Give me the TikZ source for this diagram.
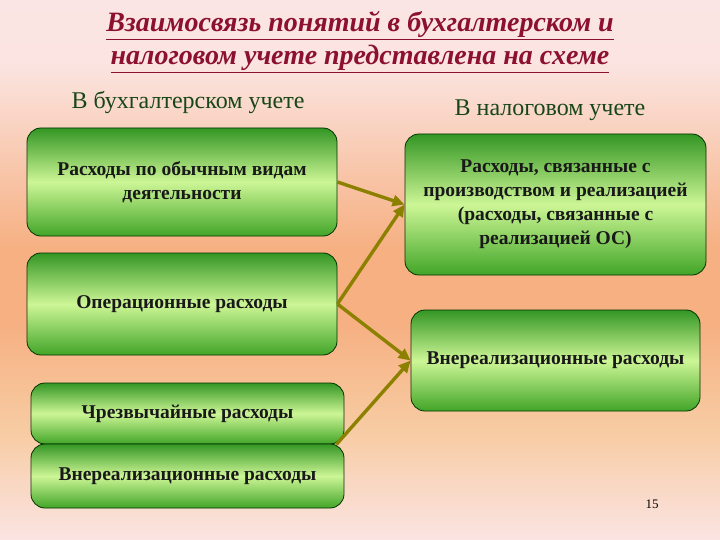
\documentclass[tikz,border=0pt]{standalone}
\usepackage{fontspec}
\setmainfont{Liberation Serif}
\usetikzlibrary{arrows.meta,shadings}
\definecolor{gdark}{RGB}{52,150,36}
\definecolor{glight}{RGB}{205,246,150}
\definecolor{gbot}{RGB}{66,165,40}
\definecolor{titlered}{RGB}{140,16,48}
\definecolor{subgreen}{RGB}{24,70,24}
\definecolor{olive}{RGB}{140,128,0}
\pgfdeclareverticalshading{bgshade}{100bp}{
  rgb(0bp)=(0.984,0.894,0.890);
  rgb(25bp)=(0.984,0.894,0.890);
  rgb(35bp)=(0.970,0.800,0.640);
  rgb(45bp)=(0.965,0.690,0.510);
  rgb(52bp)=(0.965,0.690,0.510);
  rgb(69bp)=(0.984,0.894,0.880);
  rgb(75bp)=(0.984,0.900,0.895);
  rgb(100bp)=(0.984,0.900,0.895)}
\tikzset{
  gbox/.style={draw=black!80!green, line width=0.8pt, rounded corners=14pt,
    top color=gdark, bottom color=gbot, middle color=glight,
    align=center, font=\fontsize{19.5}{24}\selectfont\bfseries, text=black!90},
  link/.style={draw=olive, line width=3.4pt, -{Triangle[length=12pt,width=11pt]}},
  subhead/.style={font=\fontsize{24}{27}\selectfont, text=subgreen}
}
\begin{document}
\begin{tikzpicture}[x=1pt,y=-1pt]
\shade[shading=bgshade] (0,0) rectangle (720,540);
\useasboundingbox (0,0) rectangle (720,540);
\node[font=\fontsize{28}{33}\selectfont\bfseries\itshape, text=titlered, align=center] (title) at (360,42)
  {\underline{Взаимосвязь понятий в бухгалтерском и}\\\underline{налоговом учете представлена на схеме}};
\node[subhead] (h1) at (188,103) {В бухгалтерском учете};
\node[subhead] (h2) at (550,110) {В налоговом учете};
\node[gbox, minimum width=310pt, minimum height=108pt] (b1) at (182,182) {Расходы по обычным видам\\деятельности};
\node[gbox, minimum width=310pt, minimum height=102pt] (b2) at (182,304) {Операционные расходы};
\node[gbox, minimum width=301pt, minimum height=141pt] (b3) at (555.5,204.5) {Расходы, связанные с\\производством и реализацией\\(расходы, связанные с\\реализацией ОС)};
\node[gbox, minimum width=289pt, minimum height=101pt] (b4) at (555.5,360.5) {Внереализационные расходы};
\node[gbox, minimum width=313pt, minimum height=61pt] (b5) at (187.5,413.5) {Чрезвычайные расходы};
\node[gbox, minimum width=313pt, minimum height=64pt] (b6) at (187.5,476) {Внереализационные расходы};
\node[font=\fontsize{13}{15}\selectfont] (pg) at (652,504) {15};
\draw[link] (b1.east) -- (b3.west);
\draw[link] (b2.east) -- (b3.west);
\draw[link] (b2.east) -- (b4.west);
\draw[link] ([xshift=-8pt]b5.south east) -- (b4.west);
\end{tikzpicture}
\end{document}
